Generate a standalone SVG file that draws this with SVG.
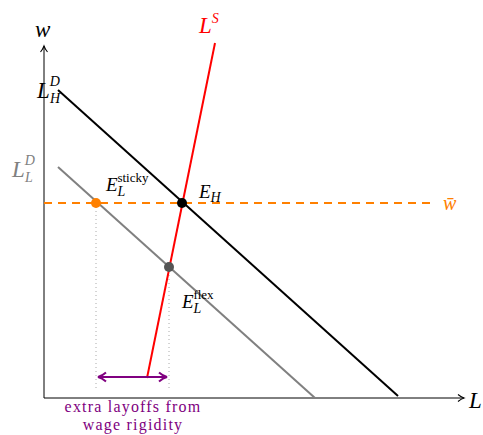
<svg xmlns="http://www.w3.org/2000/svg" width="483" height="435" viewBox="0 0 483 435">
<style>
text{font-family:"Liberation Serif","DejaVu Serif",serif}
.m{font-style:italic}
.s{font-style:normal;font-size:13px}
.si{font-style:italic;font-size:14px}
</style>
<defs>
<marker id="ax" markerWidth="10" markerHeight="10" refX="8" refY="5" orient="auto" markerUnits="userSpaceOnUse"><path d="M2,1.5 Q5,4 8,5 Q5,6 2,8.5" fill="none" stroke="#000" stroke-width="1.1"/></marker>
<marker id="pa" markerWidth="12" markerHeight="12" refX="10" refY="6" orient="auto-start-reverse" markerUnits="userSpaceOnUse"><path d="M2,1.5 Q6,5 10,6 Q6,7 2,10.5" fill="none" stroke="#800080" stroke-width="2"/></marker>
</defs>
<g id="axes" fill="none" stroke="#000" stroke-width="1">
<line x1="44" y1="398" x2="44" y2="46" marker-end="url(#ax)"/>
<line x1="44" y1="398" x2="464" y2="398" marker-end="url(#ax)"/>
</g>
<text x="35" y="37" class="m" style="font-size:23px">w</text>
<text x="469" y="408" class="m" style="font-size:23px">L</text>
<g id="connectors">
<line id="wbar" x1="44" y1="203" x2="432" y2="203" stroke="#ff8000" stroke-width="2" stroke-dasharray="8,6"/>
<line x1="96" y1="203" x2="96" y2="390" stroke="#aaa" stroke-width="1" stroke-dasharray="1,3"/>
<line x1="169" y1="267" x2="169" y2="390" stroke="#aaa" stroke-width="1" stroke-dasharray="1,3"/>
<line id="LHD" x1="58" y1="90" x2="398" y2="396" stroke="#000" stroke-width="2"/>
<line id="LLD" x1="58" y1="167" x2="315" y2="398" stroke="#808080" stroke-width="2"/>
<line id="LS" x1="147" y1="378" x2="215" y2="43" stroke="#ff0000" stroke-width="2"/>
<line id="gap" x1="98" y1="377" x2="167" y2="377" stroke="#800080" stroke-width="2" marker-start="url(#pa)" marker-end="url(#pa)"/>
</g>
<g id="EH"><circle cx="182" cy="203" r="5" fill="#000"/><text x="199" y="198" class="m" style="font-size:19px">E<tspan class="si" dy="4">H</tspan></text></g>
<g id="Esticky"><circle cx="96" cy="203" r="5" fill="#ff8000"/><text x="106" y="191" class="m" style="font-size:19px">E<tspan class="si" dy="5">L</tspan><tspan class="s" dx="-8" dy="-14">sticky</tspan></text></g>
<g id="Eflex"><circle cx="169" cy="267" r="5" fill="#555"/><text x="182" y="308" class="m" style="font-size:19px">E<tspan class="si" dy="5">L</tspan><tspan class="s" dx="-8" dy="-14">flex</tspan></text></g>
<text x="199" y="33" class="m" style="font-size:23px" fill="#ff0000">L<tspan class="si" dy="-10">S</tspan></text>
<text x="37" y="98" class="m" style="font-size:23px">L<tspan class="si" dy="-12">D</tspan><tspan class="si" dx="-10" dy="17">H</tspan></text>
<text x="12" y="177" class="m" style="font-size:23px" fill="#808080">L<tspan class="si" dy="-12">D</tspan><tspan class="si" dx="-10" dy="17">L</tspan></text>
<text x="443" y="210" class="m" style="font-size:20px" fill="#ff8000">w̄</text>
<g id="note" fill="#800080" style="font-size:16px;letter-spacing:1.2px" text-anchor="middle">
<text x="133" y="412">extra layoffs from</text>
<text x="133" y="430">wage rigidity</text>
</g>
</svg>
